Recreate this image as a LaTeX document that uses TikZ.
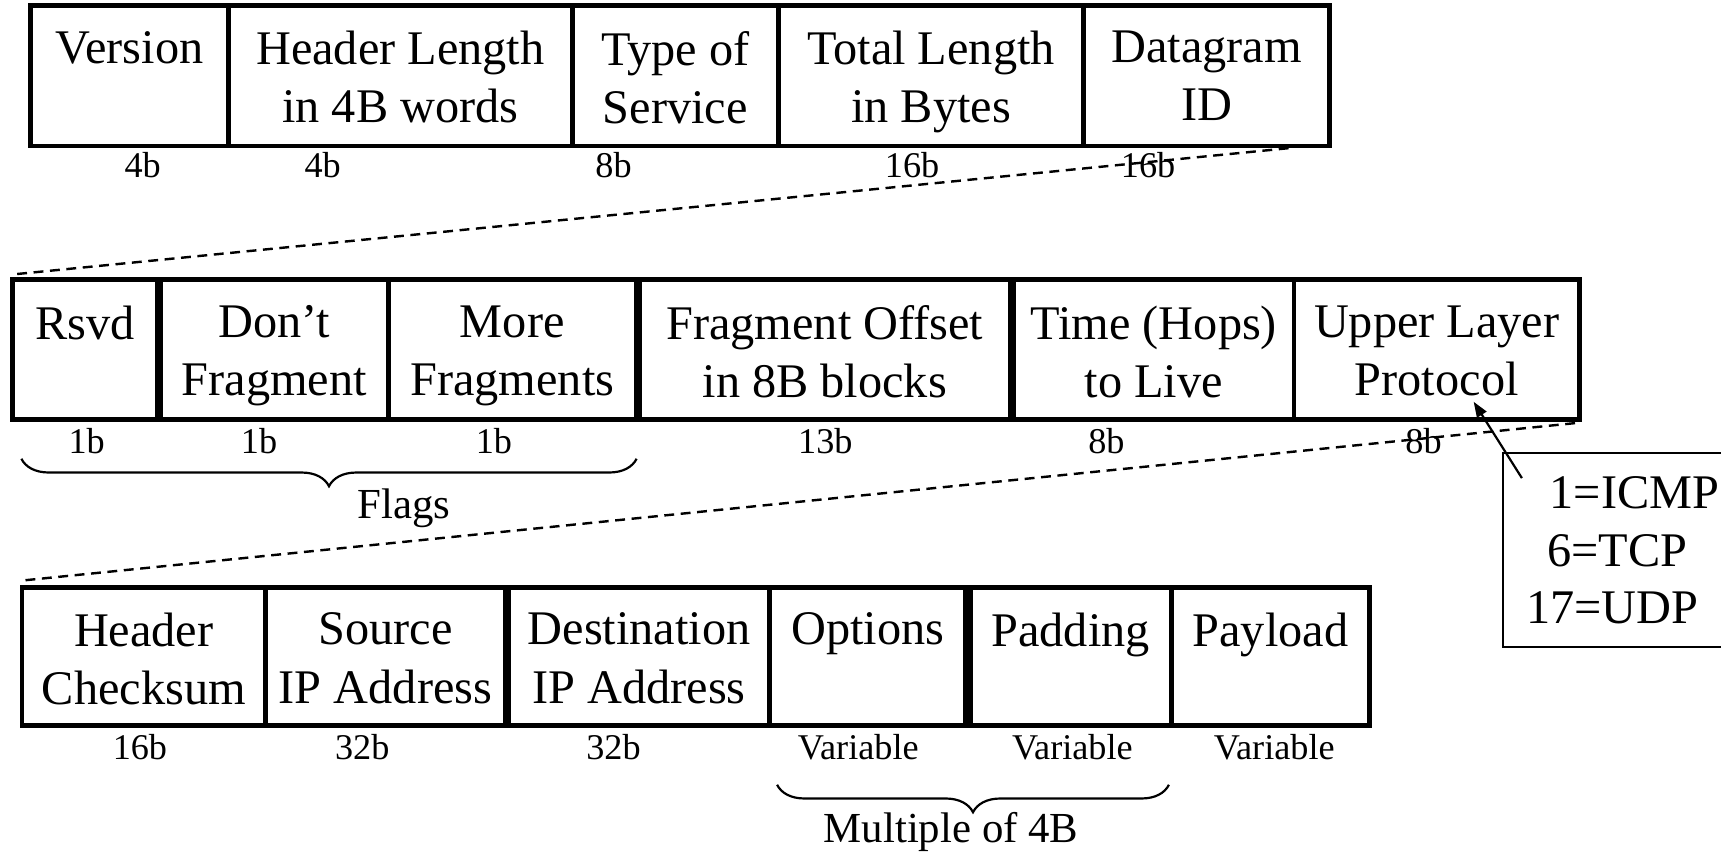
\documentclass[tikz,border=0pt]{standalone}
\usepackage{fontspec}
\setmainfont{Liberation Serif}
\usetikzlibrary{fit,decorations.pathreplacing,arrows.meta,calc}
\newcommand\fieldbox[6]{%
  \node[fldbox, fit={(#2,#3) (#4,#5)}] (#1) {};
  \node[fldtxt] (#1-t) at ($(#1.north)+(0,23)$) {#6};}
\begin{document}
\begin{tikzpicture}[x=0.5pt,y=-0.5pt,
  fldbox/.style={draw, line width=2.2pt, inner sep=0pt, outer sep=0pt},
  fldtxt/.style={font=\fontsize{22}{26.5}\selectfont, align=center, inner sep=0pt, anchor=north},
  bits/.style={font=\fontsize{16.5}{19}\selectfont, inner sep=0pt, anchor=base},
  big/.style={font=\fontsize{22}{26.5}\selectfont, inner sep=0pt},
  grp/.style={font=\fontsize{19.5}{23}\selectfont, inner sep=0pt, anchor=base},
  cut/.style={line width=1.1pt, dash pattern=on 4.5pt off 3pt},
  brc/.style={decorate, decoration={brace, amplitude=12.5pt, mirror}, line width=1pt},
]
\useasboundingbox (0,0) rectangle (1568,777);
% Row 1
\fieldbox{ver}{28}{5}{208}{133}{Version}
\fieldbox{hl}{208}{5}{521.5}{133}{Header Length\\in 4B words}
\fieldbox{tos}{521.5}{5}{709}{133}{Type of\\Service}
\fieldbox{tl}{709}{5}{987.5}{133}{Total Length\\in Bytes}
\fieldbox{did}{987.5}{5}{1211}{133}{Datagram\\ID}
\node[bits] (b1) at (130,162) {4b};
\node[bits] (b2) at (294,162) {4b};
\node[bits] (b3) at (559,162) {8b};
\node[bits] (b4) at (831,162) {16b};
\node[bits] (b5) at (1046,162) {16b};
% Row 2
\fieldbox{rsv}{11.5}{255}{143}{382}{Rsvd}
\fieldbox{df}{146}{255}{354}{382}{Don’t\\Fragment}
\fieldbox{mf}{354}{255}{579.5}{382}{More\\Fragments}
\fieldbox{fo}{582.5}{255}{920.5}{382}{Fragment Offset\\in 8B blocks}
\fieldbox{ttl}{923.5}{255}{1179}{382}{Time (Hops)\\to Live}
\fieldbox{ulp}{1179}{255}{1439}{382}{Upper Layer\\Protocol}
\node[bits] (c1) at (79,413) {1b};
\node[bits] (c2) at (236,413) {1b};
\node[bits] (c3) at (450,413) {1b};
\node[bits] (c4) at (752,413) {13b};
\node[bits] (c5) at (1008,413) {8b};
\node[bits] (c6) at (1297,413) {8b};
\coordinate (fl1) at (19.5,418);
\coordinate (fl2) at (580,418);
\draw[brc] (fl1) -- (fl2);
\node[grp] (flags) at (368,472) {Flags};
% Row 3
\fieldbox{hc}{20}{535}{242}{661}{Header\\Checksum}
\fieldbox{src}{242}{535}{460.5}{661}{Source\\IP Address}
\fieldbox{dst}{463.5}{535}{701}{661}{Destination\\IP Address}
\fieldbox{opt}{701}{535}{880}{661}{Options}
\fieldbox{pad}{884}{535}{1067}{661}{Padding}
\fieldbox{pay}{1067}{535}{1248}{661}{Payload}
\node[bits] (e1) at (127.5,692) {16b};
\node[bits] (e2) at (330,692) {32b};
\node[bits] (e3) at (559,692) {32b};
\node[bits] (e4) at (782,692) {Variable};
\node[bits] (e5) at (977,692) {Variable};
\node[bits] (e6) at (1161,692) {Variable};
\coordinate (m1) at (708,715);
\coordinate (m2) at (1065,715);
\draw[brc] (m1) -- (m2);
\node[grp] (mult) at (866.5,768) {Multiple of 4B};
% dashed continuation lines
\coordinate (d1a) at (1174,135);
\coordinate (d1b) at (12,250);
\draw[cut] (d1a) -- (d1b);
\coordinate (d2a) at (1435,385.5);
\coordinate (d2b) at (19.5,529);
\draw[cut] (d2a) -- (d2b);
% callout
\node[draw, line width=1pt, inner sep=0pt, fit={(1369,413) (1640,589.5)}] (cb) {};
\node[big, anchor=base west] (p1) at (1411.5,463) {1=ICMP};
\node[big, anchor=base west] (p2) at (1409.5,516) {6=TCP};
\node[big, anchor=base west] (p3) at (1390,568) {17=UDP};
\coordinate (atail) at (1386.6,435.6);
\coordinate (atip) at (1342.6,366);
\draw[line width=1pt, -{Triangle[length=7pt,width=5pt]}] (atail) -- (atip);
\end{tikzpicture}
\end{document}
